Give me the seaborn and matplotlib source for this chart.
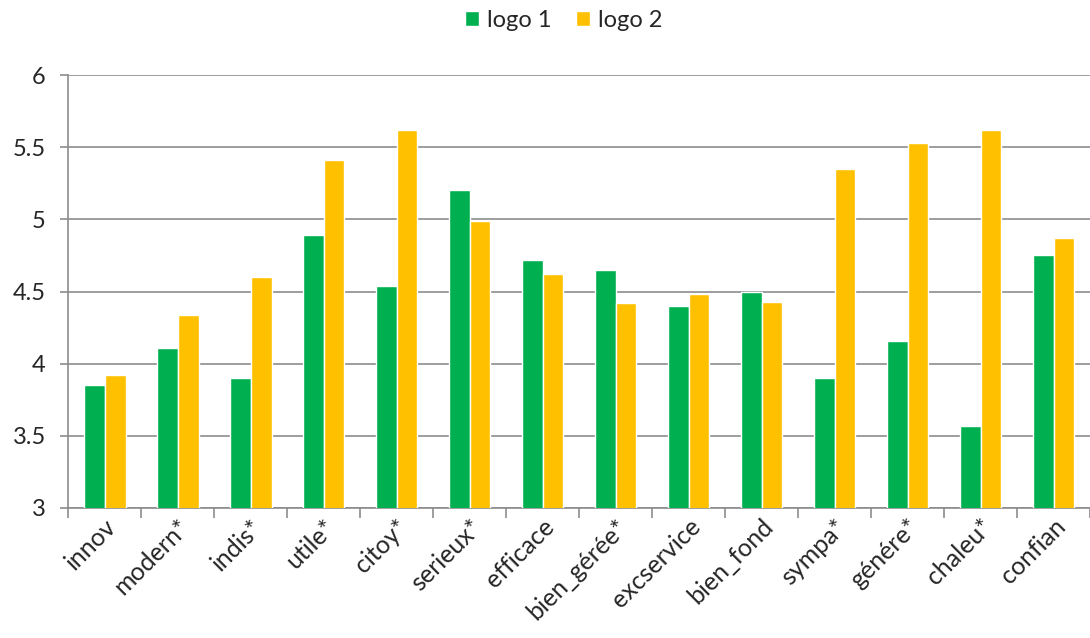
import numpy as np
import pandas as pd
import matplotlib
matplotlib.use('Agg')
import matplotlib.pyplot as plt
from matplotlib.ticker import FixedLocator
import seaborn as sns

categories = ['innov', 'modern*', 'indis*', 'utile*', 'citoy*', 'serieux*', 'efficace',
              'bien_gérée*', 'excservice', 'bien_fond', 'sympa*', 'génére*', 'chaleu*', 'confian']
logo1 = [3.85, 4.11, 3.90, 4.89, 4.54, 5.20, 4.72, 4.65, 4.40, 4.50, 3.90, 4.16, 3.57, 4.75]
logo2 = [3.92, 4.34, 4.60, 5.41, 5.62, 4.99, 4.62, 4.42, 4.48, 4.43, 5.35, 5.53, 5.62, 4.87]
series = ['logo 1', 'logo 2']
colors = ['#00B050', '#FFC000']

df = pd.DataFrame({
    'cat': categories * 2,
    'val': logo1 + logo2,
    'serie': [series[0]] * len(categories) + [series[1]] * len(categories),
})

sns.set_theme(style='white')
plt.rcParams['font.family'] = ['Lato', 'DejaVu Sans']

fig = plt.figure(figsize=(10.9, 6.38), dpi=100)
ax = fig.add_axes([0.0624, 0.2038, 0.9376, 0.6786])

sns.barplot(data=df, x='cat', y='val', hue='serie', palette=colors,
            width=0.575, saturation=1, ax=ax, zorder=3)

ax.set_ylim(3, 6)
ax.set_yticks(np.arange(3, 6.01, 0.5))
ax.set_yticklabels(['3', '3.5', '4', '4.5', '5', '5.5', '6'], fontsize=17)
ax.set_xlim(-0.5, len(categories) - 0.5)
ax.yaxis.grid(True, color='#8c8c8c', linewidth=1.2, zorder=0)
ax.set_axisbelow(True)
ax.set_xlabel('')
ax.set_ylabel('')

for s in ['top', 'right']:
    ax.spines[s].set_visible(False)
for s in ['left', 'bottom']:
    ax.spines[s].set_color('#8c8c8c')
    ax.spines[s].set_linewidth(1.2)

ax.tick_params(axis='y', which='major', left=True, length=6, width=1.2, color='#8c8c8c', pad=10)
ax.tick_params(axis='x', which='major', length=0, pad=5)
ax.xaxis.set_minor_locator(FixedLocator(np.arange(-0.5, len(categories), 1.0)))
ax.tick_params(axis='x', which='minor', bottom=True, length=7, width=1.2, color='#8c8c8c')
for lab in ax.get_xticklabels():
    lab.set_rotation(45)
    lab.set_ha('right')
    lab.set_rotation_mode('anchor')
    lab.set_fontsize(18)

ax.legend(loc='center', bbox_to_anchor=(0.485, 1.127), ncol=2, frameon=False,
          fontsize=17, handlelength=0.6, handleheight=0.6, handletextpad=0.35,
          columnspacing=1.0, borderpad=0)

fig.savefig('out.png', dpi=100)
